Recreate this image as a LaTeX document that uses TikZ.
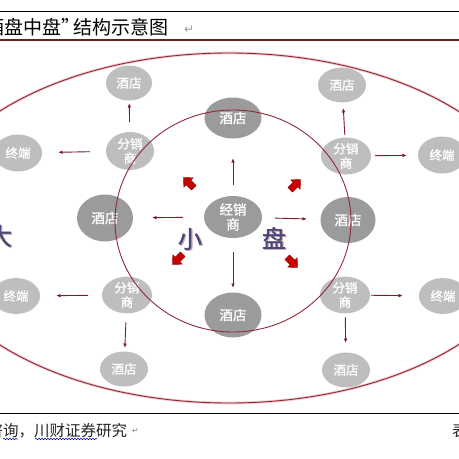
\documentclass[tikz,border=0pt]{standalone}
\usepackage{fontspec}
\newfontfamily\cjk{Noto Sans CJK SC}
\newfontfamily\cjkb[FakeBold=1.2]{Noto Sans CJK SC}
\newfontfamily\djv{DejaVu Sans}
\usetikzlibrary{shapes.geometric,arrows.meta,decorations.pathmorphing}
\definecolor{nodedark}{HTML}{9B9B9B}
\definecolor{nodelight}{HTML}{BEBEBE}
\definecolor{arrowred}{HTML}{7A1E2C}
\definecolor{ringred}{HTML}{8E2A38}
\definecolor{ringglow}{HTML}{F2C6C8}
\definecolor{titlered}{HTML}{6E1E1E}
\definecolor{fatred}{HTML}{C80000}
\definecolor{fatdark}{HTML}{8A0000}
\definecolor{bigtext}{HTML}{4A4878}
\definecolor{bigshadow}{HTML}{C9A0A8}
\begin{document}
\begin{tikzpicture}[x=1pt,y=-1pt,
  base/.style={ellipse, inner sep=0pt, outer sep=0pt, text=white, align=center},
  inn/.style={base, fill=nodedark, font=\cjkb\fontsize{13.5}{15}\selectfont},
  outr/.style={base, fill=nodelight, font=\cjkb\fontsize{12.5}{14.5}\selectfont},
  link/.style={draw=arrowred, line width=0.9pt, -{Latex[length=4.5pt,width=3.6pt]}},
  ring/.style={draw=ringred, line width=0.9pt},
  glow/.style={draw=ringglow, line width=2.6pt},
  bigchar/.style={inner sep=0pt, font=\cjkb\fontsize{24}{24}\selectfont, text=bigtext},
  bigshade/.style={inner sep=0pt, font=\cjkb\fontsize{24}{24}\selectfont, text=bigshadow},
  txt/.style={anchor=base west, inner sep=0pt},
  fatarrow/.pic={\filldraw[fill=fatred, draw=fatdark, line width=0.4pt, line join=round, scale=1.12]
     (-6,-2.9) -- (0.5,-2.9) -- (0.5,-6) -- (7,0) -- (0.5,6) -- (0.5,2.9) -- (-6,2.9) -- cycle;}
]
\useasboundingbox (0,0) rectangle (459,459);
\fill[white] (0,0) rectangle (459,459);

% header / footer lines
\draw[black, line width=1pt] (0,11) -- (459,11);
\draw[titlered, line width=1.2pt] (0,40) -- (459,40);
\draw[black, line width=1pt] (0,413) -- (459,413);

% title
\node[txt, font=\cjk\fontsize{19}{19}\selectfont] (t1) at (-15,34) {酒盘中盘”};
\node[txt, font=\cjk\fontsize{19}{19}\selectfont] (t2) at (73,34) {结构示意图};
\node[txt, font=\djv\fontsize{12}{12}\selectfont, text=gray!80] (t3) at (184,33) {↵};

% source
\node[txt, font=\cjk\fontsize{15.5}{15.5}\selectfont, text=black!85] (src) at (-12.5,436) {咨询，川财证券研究};
\node[txt, font=\djv\fontsize{8}{8}\selectfont, text=gray] (src2) at (132,433) {↵};
\node[txt, font=\cjk\fontsize{15.5}{15.5}\selectfont, text=black!85] (pg) at (452,436) {表};
\draw[blue!70!black, line width=0.5pt, decorate, decoration={snake, amplitude=0.8pt, segment length=3pt}] (3,439) -- (18,439);
\draw[blue!70!black, line width=0.5pt, decorate, decoration={snake, amplitude=0.8pt, segment length=3pt}] (35,439) -- (97,439);

% inner nodes
\node[inn, minimum width=58pt, minimum height=42pt] (C) at (233,217) {经销\\商};
\node[inn, minimum width=57pt, minimum height=41pt] (T) at (233,118) {酒店};
\node[inn, minimum width=57pt, minimum height=45pt] (B) at (233,315) {酒店};
\node[inn, minimum width=56pt, minimum height=47pt] (L) at (105,218) {酒店};
\node[inn, minimum width=55pt, minimum height=46pt] (R) at (348,220) {酒店};

% outer nodes
\node[outr, minimum width=46pt, minimum height=35pt] (H1) at (129,83) {酒店};
\node[outr, minimum width=48pt, minimum height=38pt] (D1) at (130,151) {分销\\商};
\node[outr, minimum width=48pt, minimum height=37pt] (E1) at (18,153) {终端};
\node[outr, minimum width=50pt, minimum height=36pt] (D2) at (127,295) {分销\\商};
\node[outr, minimum width=48pt, minimum height=36pt] (E2) at (16,296) {终端};
\node[outr, minimum width=48pt, minimum height=35pt] (H2) at (124,369) {酒店};
\node[outr, minimum width=48pt, minimum height=35pt] (H3) at (342,85) {酒店};
\node[outr, minimum width=50pt, minimum height=37pt] (D3) at (346,156) {分销\\商};
\node[outr, minimum width=48pt, minimum height=37pt] (E3) at (442,155) {终端};
\node[outr, minimum width=50pt, minimum height=36pt] (D4) at (345,295) {分销\\商};
\node[outr, minimum width=48pt, minimum height=36pt] (E4) at (443,296) {终端};
\node[outr, minimum width=48pt, minimum height=35pt] (H4) at (346,370) {酒店};

% rings
\draw[glow] (229,228) ellipse [x radius=308pt, y radius=175pt];
\draw[ring] (229,228) ellipse [x radius=308pt, y radius=175pt];
\draw[ring] (233,221) ellipse [x radius=118pt, y radius=111pt];

% connectors
\draw[link, shorten <=11pt, shorten >=19.5pt] (C) -- (T);
\draw[link, shorten <=14pt, shorten >=4.5pt] (C) -- (B);
\draw[link, shorten <=21pt, shorten >=19pt] (C) -- (L);
\draw[link, shorten <=13pt, shorten >=13.5pt] (C) -- (R);
\draw[link, shorten <=10pt, shorten >=2.5pt] (D1) -- (H1);
\draw[link, shorten <=16pt, shorten >=16pt] (D1) -- (E1);
\draw[link, shorten <=14pt, shorten >=16pt] (D2) -- (E2);
\draw[link, shorten <=9pt, shorten >=3.5pt] (D2) -- (H2);
\draw[link, shorten <=2.5pt, shorten >=5.5pt] (D3) -- (H3);
\draw[link, shorten <=4pt, shorten >=11pt] (D3) -- (E3);
\draw[link, shorten <=1pt, shorten >=16pt] (D4) -- (E4);
\draw[link, shorten <=4pt, shorten >=9.5pt] (D4) -- (H4);

% fat red arrows
\pic[rotate=135] at (189,183) {fatarrow};
\pic[rotate=45] at (295,185) {fatarrow};
\pic[rotate=225] at (178,259) {fatarrow};
\pic[rotate=-45] at (292,262) {fatarrow};

% big characters
\node[bigshade] (xiaos) at (191.2,239.8) {小};
\node[bigchar] (xiao) at (190,239) {小};
\node[bigshade] (pans) at (275.2,238.8) {盘};
\node[bigchar] (pan) at (274,238) {盘};
\node[bigshade] (das) at (1.2,236.8) {大};
\node[bigchar] (da) at (0,236) {大};
\end{tikzpicture}
\end{document}
